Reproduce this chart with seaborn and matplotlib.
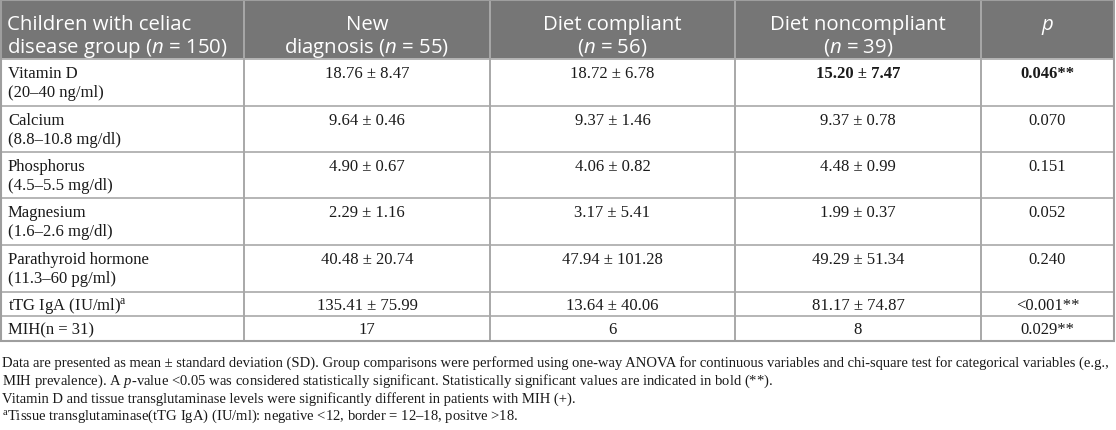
import numpy as np
import matplotlib
matplotlib.use("Agg")
import matplotlib.pyplot as plt
import seaborn as sns
from matplotlib.patches import Rectangle

# table content
header_lines = [
    ("Children with celiac", r"disease group ($\mathsf{n}$ = 150)"),
    ("New", r"diagnosis ($\mathsf{n}$ = 55)"),
    ("Diet compliant", r"($\mathsf{n}$ = 56)"),
    ("Diet noncompliant", r"($\mathsf{n}$ = 39)"),
    (r"$\mathsf{p}$", ""),
]
row_names = ["Vitamin D", "Calcium", "Phosphorus", "Magnesium",
             "Parathyroid hormone", r"tTG IgA (IU/ml)$^{\mathrm{a}}$", "MIH(n = 31)"]
row_ranges = ["(20–40 ng/ml)", "(8.8–10.8 mg/dl)", "(4.5–5.5 mg/dl)",
              "(1.6–2.6 mg/dl)", "(11.3–60 pg/ml)", "", ""]
new_diagnosis = ["18.76 ± 8.47", "9.64 ± 0.46", "4.90 ± 0.67", "2.29 ± 1.16",
                 "40.48 ± 20.74", "135.41 ± 75.99", "17"]
diet_compliant = ["18.72 ± 6.78", "9.37 ± 1.46", "4.06 ± 0.82", "3.17 ± 5.41",
                  "47.94 ± 101.28", "13.64 ± 40.06", "6"]
diet_noncompliant = ["15.20 ± 7.47", "9.37 ± 0.78", "4.48 ± 0.99", "1.99 ± 0.37",
                     "49.29 ± 51.34", "81.17 ± 74.87", "8"]
p_values = ["0.046**", "0.070", "0.151", "0.052", "0.240", "<0.001**", "0.029**"]
bold_noncompliant = [True, False, False, False, False, False, False]
bold_p = [True, False, False, False, False, False, False]

footnotes = [
    "Data are presented as mean ± standard deviation (SD). Group comparisons were performed using "
    "one-way ANOVA for continuous variables and chi-square test for categorical variables (e.g.,",
    r"MIH prevalence). A $p$-value <0.05 was considered statistically significant. "
    "Statistically significant values are indicated in bold (**).",
    "Vitamin D and tissue transglutaminase levels were significantly different in patients with MIH (+).",
    r"$^{\mathrm{a}}$Tissue transglutaminase(tTG IgA) (IU/ml): negative <12, border = 12–18, positve >18.",
]

# layout (pixels)
W, H = 1116, 431
col_x = [0, 244, 490, 735, 981, 1114]
row_y = [60, 107, 153, 199, 246, 293, 317, 342]
header_h = 60

sns.set_theme(style="white")
plt.rcParams["font.family"] = ["Liberation Serif", "DejaVu Serif"]
plt.rcParams["mathtext.fontset"] = "custom"
plt.rcParams["mathtext.rm"] = "Liberation Serif"
plt.rcParams["mathtext.it"] = "Liberation Serif:italic"
plt.rcParams["mathtext.bf"] = "Liberation Serif:bold"
plt.rcParams["mathtext.sf"] = "Open Sans:italic"

fig = plt.figure(figsize=(W / 100, H / 100), dpi=100)
ax = fig.add_axes([0, 0, 1, 1])
ax.set_xlim(0, W)
ax.set_ylim(H, 0)
ax.axis("off")
renderer = fig.canvas.get_renderer()


def fit_size(text, width_px, family, base=10):
    t = ax.text(0, 0, text, fontsize=base, family=family)
    w = t.get_window_extent(renderer).width
    t.remove()
    return base * width_px / w


head_fs = fit_size("disease group (n = 150)", 221, "Open Sans")
body_fs = fit_size("Parathyroid hormone", 141, "Liberation Serif")
note_fs = fit_size(footnotes[0], 1110, "Liberation Serif")

grid_col = "#b5b5b5"
head_bg = "#767676"
text_col = "#1a1a1a"

# header background
ax.add_patch(Rectangle((0, 0), col_x[-1], header_h, facecolor=head_bg, edgecolor="none", zorder=1))

# grid lines
for y in row_y[:-1]:
    ax.plot([0, col_x[-1]], [y, y], color=grid_col, lw=1.4, zorder=2)
for x in col_x[1:-1]:
    ax.plot([x, x], [0, row_y[-1]], color="#a8a8a8", lw=1.4, zorder=2)
ax.add_patch(Rectangle((0.8, 0.8), col_x[-1] - 0.8, row_y[-1] - 0.8, fill=False,
                       edgecolor="#9e9e9e", lw=1.5, zorder=3))

# header text
for i, (l1, l2) in enumerate(header_lines):
    if i == 0:
        x, ha = 7, "left"
    else:
        x, ha = (col_x[i] + col_x[i + 1]) / 2, "center"
    ax.text(x, 30, l1, ha=ha, va="baseline", color="white", fontsize=head_fs,
            family="Open Sans", zorder=4)
    if l2:
        ax.text(x, 52.5, l2, ha=ha, va="baseline", color="white", fontsize=head_fs,
                family="Open Sans", zorder=4)

# body rows
columns = [new_diagnosis, diet_compliant, diet_noncompliant, p_values]
bolds = [[False] * 7, [False] * 7, bold_noncompliant, bold_p]
for r in range(len(row_names)):
    top, bot = row_y[r], row_y[r + 1]
    if row_ranges[r]:
        y1 = top + 18
        ax.text(8, top + 37, row_ranges[r], ha="left", va="baseline",
                fontsize=body_fs, color=text_col)
    else:
        y1 = (top + bot) / 2 + 5
    ax.text(8, y1, row_names[r], ha="left", va="baseline", fontsize=body_fs, color=text_col)
    for c, vals in enumerate(columns):
        xc = (col_x[c + 1] + col_x[c + 2]) / 2
        ax.text(xc, y1, vals[r], ha="center", va="baseline", fontsize=body_fs,
                color=text_col, weight="bold" if bolds[c][r] else "normal")

# footnotes
for k, line in enumerate(footnotes):
    ax.text(2, 367 + k * 17.7, line, ha="left", va="baseline", fontsize=note_fs, color=text_col)

fig.savefig("out.png", dpi=100)
